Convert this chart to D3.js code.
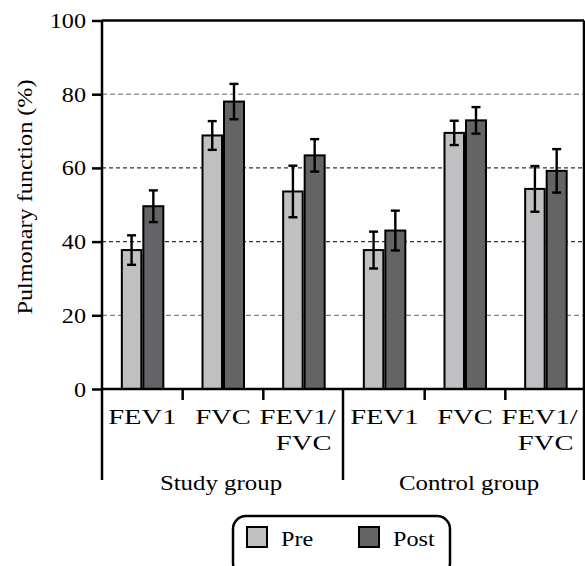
<!DOCTYPE html>
<html>
<head>
<meta charset="utf-8">
<script src="https://cdn.jsdelivr.net/npm/d3@7"></script>
<style>
  html, body { margin: 0; padding: 0; background: #fff; }
  svg { display: block; }
  svg text { font-family: "Liberation Serif", "Tinos", "Times New Roman", "DejaVu Serif", serif; fill: #000; }
</style>
</head>
<body>
<svg id="chart" width="585" height="566"></svg>
<script>
// ---- data ----
const groups = ["Study group", "Control group"];
const categories = ["FEV1", "FVC", "FEV1/FVC"];
const seriesNames = ["Pre", "Post"];
const preValues  = [37.7, 68.8, 53.6, 37.7, 69.5, 54.3];
const preErrors  = [4.0, 3.9, 7.0, 5.0, 3.3, 6.2];
const postValues = [49.6, 78.0, 63.4, 43.0, 72.9, 59.2];
const postErrors = [4.3, 4.8, 4.4, 5.4, 3.6, 5.9];
const yTicks = [0, 20, 40, 60, 80, 100];
const yLabel = "Pulmonary function (%)";

// ---- layout ----
const FONT = '"Liberation Serif", "Tinos", "Times New Roman", "DejaVu Serif", serif';
const FS = 22;
const svg = d3.select("#chart");
const pLeft = 102, pRight = 584, pTop = 20.5, pBottom = 389;
const colors = { Pre: "#c0c0c2", Post: "#646466" };
const SX = 1.1;    // horizontal stretch of general serif text
const SXG = 1.13;  // group labels
const SXC = 1.3;   // category labels

const slots = [];
groups.forEach((g, gi) => categories.forEach((c, ci) => slots.push(gi + "|" + ci)));

const x = d3.scaleBand().domain(slots).range([pLeft, 586]).padding(0);
const y = d3.scaleLinear().domain([0, 100]).range([pBottom, pTop]);

// gridlines
svg.append("g").selectAll("line")
  .data(yTicks.filter(t => t > 0 && t < 100))
  .join("line")
  .attr("x1", pLeft).attr("x2", pRight)
  .attr("y1", d => y(d)).attr("y2", d => y(d))
  .attr("stroke", d => (d === 40 || d === 60) ? "#333" : "#666")
  .attr("stroke-width", d => (d === 40 || d === 60) ? 1.2 : 1)
  .attr("stroke-dasharray", d => (d === 40 || d === 60) ? "4,3" : "5,3");

// bars
const rows = slots.map((s, i) => ({ slot: s, pre: preValues[i], preErr: preErrors[i], post: postValues[i], postErr: postErrors[i] }));
const bars = [];
rows.forEach(r => {
  bars.push({ slot: r.slot, s: "Pre", v: r.pre, e: r.preErr, x0: -20.5, x1: -1 });
  bars.push({ slot: r.slot, s: "Post", v: r.post, e: r.postErr, x0: 1, x1: 21 });
});
const cx = s => x(s) + x.bandwidth() / 2;

svg.append("g").selectAll("rect").data(bars).join("rect")
  .attr("x", d => cx(d.slot) + d.x0)
  .attr("width", d => d.x1 - d.x0)
  .attr("y", d => y(d.v))
  .attr("height", d => y(0) - y(d.v))
  .attr("fill", d => colors[d.s])
  .attr("stroke", "#000")
  .attr("stroke-width", 2);

// error bars
const eg = svg.append("g").attr("stroke", "#000").attr("stroke-width", 2.4);
bars.forEach(d => {
  const xc = cx(d.slot) + (d.x0 + d.x1) / 2;
  const yt = y(d.v + d.e), yb = y(d.v - d.e);
  eg.append("line").attr("x1", xc).attr("x2", xc).attr("y1", yt).attr("y2", yb);
  eg.append("line").attr("x1", xc - 4.5).attr("x2", xc + 4.5).attr("y1", yt).attr("y2", yt);
  eg.append("line").attr("x1", xc - 4.5).attr("x2", xc + 4.5).attr("y1", yb).attr("y2", yb);
});

// frame: top and right
svg.append("line").attr("x1", pLeft).attr("x2", pRight).attr("y1", pTop).attr("y2", pTop)
  .attr("stroke", "#000").attr("stroke-width", 2.5);
svg.append("line").attr("x1", pRight).attr("x2", pRight).attr("y1", pTop).attr("y2", 480)
  .attr("stroke", "#000").attr("stroke-width", 2.5);

// y axis
const yAxis = d3.axisLeft(y).tickValues(yTicks).tickSize(10).tickPadding(6).tickFormat(d3.format("d"));
const ya = svg.append("g").attr("transform", `translate(${pLeft},0)`).call(yAxis)
  .attr("font-family", FONT).attr("font-size", FS);
ya.select(".domain").attr("stroke-width", 2.5).attr("d", `M0,${pTop}V480`);
ya.selectAll(".tick line").attr("stroke-width", 2.5);
ya.selectAll(".tick text")
  .each(function () {
    const w = this.getComputedTextLength();
    d3.select(this).attr("textLength", w * SX).attr("lengthAdjust", "spacingAndGlyphs");
  });

// x axis baseline
svg.append("line").attr("x1", pLeft).attr("x2", pRight).attr("y1", pBottom).attr("y2", pBottom)
  .attr("stroke", "#000").attr("stroke-width", 2.5);

// category ticks (between categories inside a group) and group dividers
const xg = svg.append("g").attr("stroke", "#000").attr("stroke-width", 2.5);
slots.forEach((s, i) => {
  const ci = i % categories.length;
  if (ci === 0 && i > 0) {
    xg.append("line").attr("x1", x(s) - 1).attr("x2", x(s) - 1).attr("y1", pBottom).attr("y2", 480);
  } else if (ci > 0) {
    xg.append("line").attr("x1", x(s)).attr("x2", x(s)).attr("y1", pBottom).attr("y2", 400);
  }
});

// text helper: horizontally stretched serif text
function stretchedText(parent, tx, ty, str, size, sx, anchor) {
  const g = parent.append("g").attr("transform", `translate(${tx},${ty}) scale(${sx},1)`);
  return g.append("text").attr("text-anchor", anchor || "middle").attr("font-size", size)
    .attr("font-family", FONT).text(str);
}
const lab = svg.append("g");
slots.forEach((s, i) => {
  const c = categories[i % categories.length];
  const parts = c.includes("/") ? [c.slice(0, c.indexOf("/") + 1), c.slice(c.indexOf("/") + 1)] : [c];
  parts.forEach((p, li) => {
    const dx = (parts.length > 1 && li === 0) ? -6 : 0;
    stretchedText(lab, cx(s) + dx, 424 + li * 26, p, FS, SXC);
  });
});

// group labels
groups.forEach((g, gi) => {
  const s0 = slots[gi * categories.length], s1 = slots[gi * categories.length + categories.length - 1];
  const gc = (x(s0) + x(s1) + x.bandwidth()) / 2;
  stretchedText(lab, gc + (gi === 1 ? 4 : -2), 490, g, FS, SXG);
});

// y label
svg.append("g").attr("transform", `translate(32,197) rotate(-90) scale(${SX},1)`)
  .append("text").attr("text-anchor", "middle").attr("font-size", FS).attr("font-family", FONT).text(yLabel);

// legend
const lg = svg.append("g");
lg.append("rect").attr("x", 233).attr("y", 516).attr("width", 217).attr("height", 60)
  .attr("rx", 13).attr("ry", 13).attr("fill", "none").attr("stroke", "#000").attr("stroke-width", 2.5);
const legX = [247, 359];
seriesNames.forEach((n, i) => {
  lg.append("rect").attr("x", legX[i]).attr("y", 527).attr("width", 20).attr("height", 20)
    .attr("fill", colors[n]).attr("stroke", "#000").attr("stroke-width", 2);
  stretchedText(lg, legX[i] + 34, 546, n, FS, SX, "start");
});
</script>
</body>
</html>
